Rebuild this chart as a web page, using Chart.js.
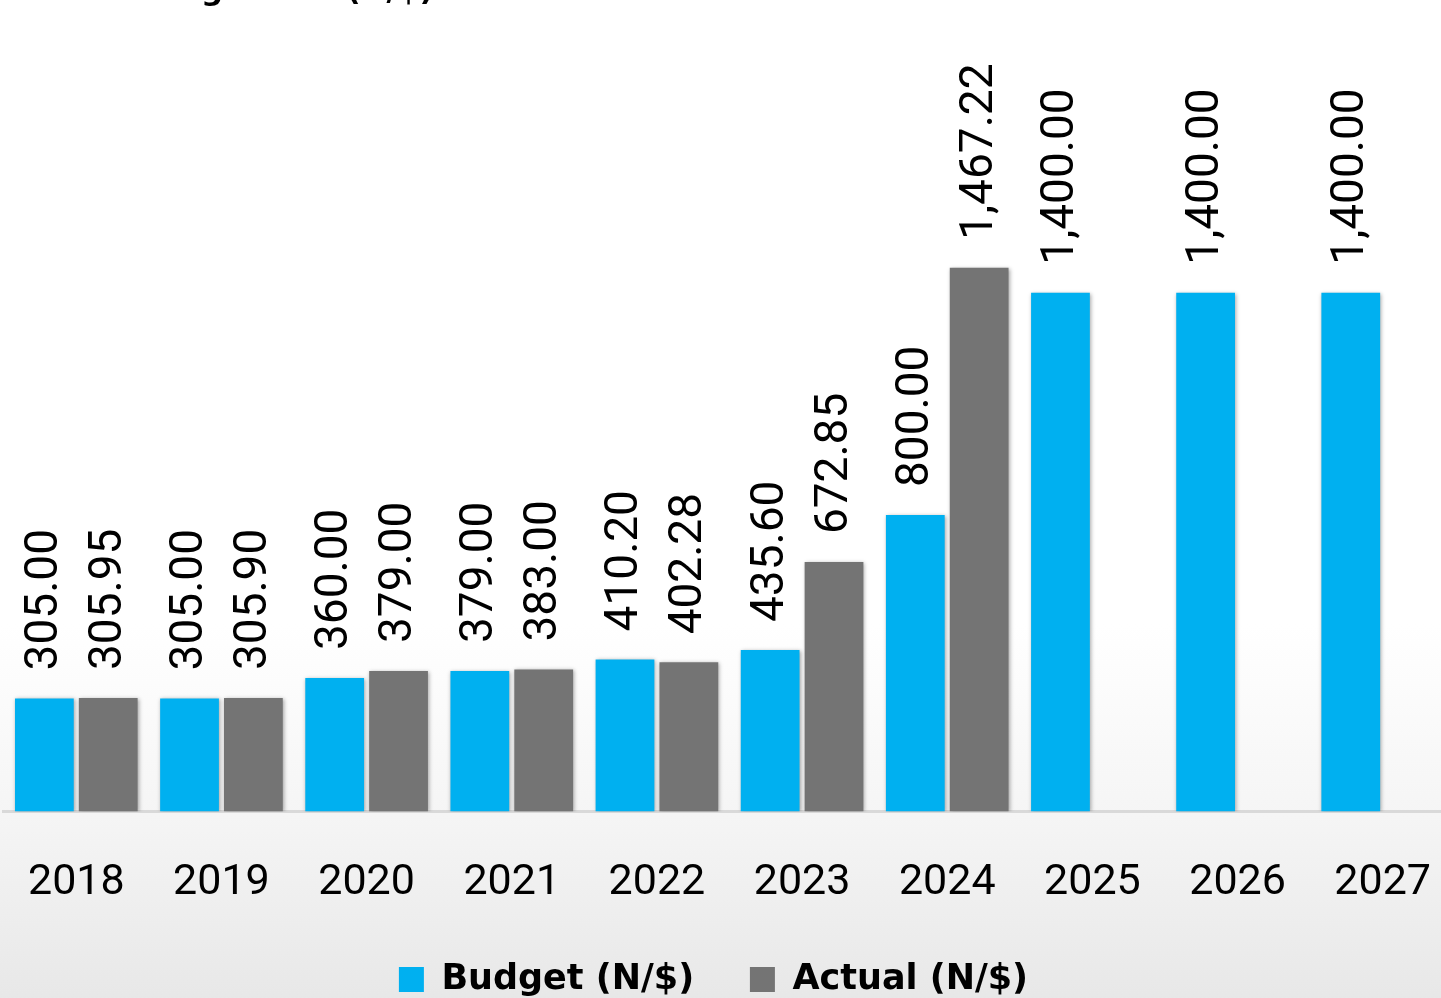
<!DOCTYPE html>
<html lang="en">
<head>
    <meta charset="UTF-8">
    <title>Exchange Rate (N/$)</title>
    <script src="https://cdn.jsdelivr.net/npm/chart.js"></script>
    <style>
        html, body { margin: 0; padding: 0; overflow: hidden; background: #fff; }
        /* canvas is a bit wider/taller than the window so the plot lines up with the original */
        #wrap { position: absolute; left: -17.5px; top: 0; width: 1493px; height: 1007px; }
    </style>
</head>
<body>
    <div id="wrap"><canvas id="outputChart"></canvas></div>

    <script>
const years = ['2018', '2019', '2020', '2021', '2022', '2023', '2024', '2025', '2026', '2027'];
const budget = [305.00, 305.00, 360.00, 379.00, 410.20, 435.60, 800.00, 1400.00, 1400.00, 1400.00];
const actual = [305.95, 305.90, 379.00, 383.00, 402.28, 672.85, 1467.22, null, null, null];
const seriesNames = ['Budget (N/$)    ', 'Actual (N/$)'];
const titleText = 'Exchange Rate (N/$)';

const fmt = v => v.toLocaleString('en-US', { minimumFractionDigits: 2, maximumFractionDigits: 2 });

// page background: white fading into light grey towards the bottom
const backdrop = {
    id: 'backdrop',
    beforeDraw(chart) {
        const { ctx, width, height } = chart;
        const g = ctx.createLinearGradient(0, 0, 0, height);
        g.addColorStop(0, '#ffffff');
        g.addColorStop(0.62, '#ffffff');
        g.addColorStop(0.81, '#f5f5f5');
        g.addColorStop(1, '#e7e7e7');
        ctx.save();
        ctx.fillStyle = g;
        ctx.fillRect(0, 0, width, height);
        // title sits mostly above the visible area
        ctx.font = 'bold 31px "DejaVu Sans"';
        ctx.fillStyle = '#000';
        ctx.textBaseline = 'alphabetic';
        const x0 = 218 - ctx.measureText('Exchan').width;
        ctx.fillText(titleText, x0, 0);
        ctx.restore();
    },
    afterLayout(chart) {
        // nudge legend a little left, like the original
        chart.legend.left -= 16;
        chart.legend.right -= 16;
    }
};

// soft shadow on bars + rotated value labels
const barLabels = {
    id: 'barLabels',
    beforeDatasetsDraw(chart) {
        const ctx = chart.ctx;
        ctx.save();
        ctx.shadowColor = 'rgba(0,0,0,0.35)';
        ctx.shadowBlur = 4;
        ctx.shadowOffsetX = 1;
        ctx.shadowOffsetY = 1;
    },
    afterDatasetsDraw(chart) {
        const ctx = chart.ctx;
        ctx.restore();
        ctx.save();
        ctx.font = '46px Roboto';
        ctx.fillStyle = '#000';
        ctx.textAlign = 'left';
        ctx.textBaseline = 'middle';
        chart.data.datasets.forEach((ds, i) => {
            chart.getDatasetMeta(i).data.forEach((bar, j) => {
                const v = ds.data[j];
                if (v == null) return;
                ctx.save();
                ctx.translate(bar.x + 1, bar.y - 28);
                ctx.rotate(-Math.PI / 2);
                ctx.fillText(fmt(v), 0, 0);
                ctx.restore();
            });
        });
        ctx.restore();
    }
};

new Chart(document.getElementById('outputChart'), {
    type: 'bar',
    data: {
        labels: years,
        datasets: [
            { label: seriesNames[0], data: budget, backgroundColor: '#00b0f0' },
            { label: seriesNames[1], data: actual, backgroundColor: '#747474' }
        ]
    },
    options: {
        responsive: true,
        maintainAspectRatio: false,
        animation: false,
        categoryPercentage: 0.88,
        barPercentage: 0.92,
        layout: { padding: 0 },
        scales: {
            x: {
                grid: { display: false, drawTicks: false },
                border: { display: true, color: '#d9d9d9', width: 3 },
                ticks: {
                    color: '#000',
                    padding: 46,
                    font: { family: 'Roboto', size: 43 }
                }
            },
            y: {
                display: false,
                min: 0,
                max: 2190
            }
        },
        plugins: {
            legend: {
                position: 'bottom',
                labels: {
                    color: '#000',
                    boxWidth: 25,
                    boxHeight: 25,
                    padding: 7,
                    font: { family: '"DejaVu Sans"', size: 35, weight: 'bold' }
                }
            },
            tooltip: { enabled: false }
        }
    },
    plugins: [backdrop, barLabels]
});
    </script>
</body>
</html>
